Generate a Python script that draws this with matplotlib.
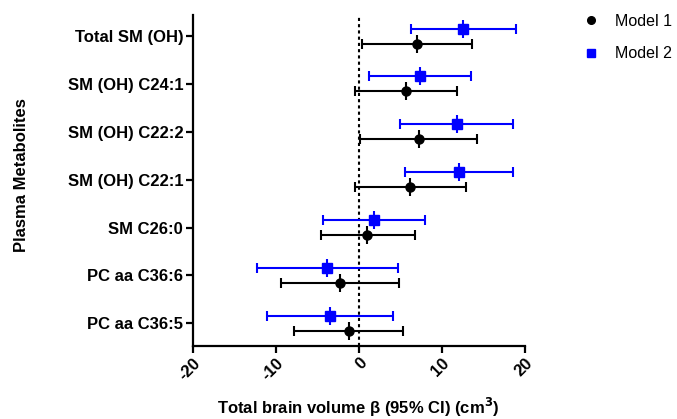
import numpy as np
import matplotlib
matplotlib.use("Agg")
import matplotlib.pyplot as plt
from matplotlib.lines import Line2D

plt.rcParams["font.family"] = ["Liberation Sans", "DejaVu Sans"]
plt.rcParams["axes.unicode_minus"] = False

metabolites = ["PC aa C36:5", "PC aa C36:6", "SM C26:0", "SM (OH) C22:1",
               "SM (OH) C22:2", "SM (OH) C24:1", "Total SM (OH)"]

m1_beta = [-1.2, -2.25, 1.0, 6.2, 7.2, 5.7, 6.95]
m1_low = [-7.8, -9.45, -4.6, -0.5, 0.15, -0.5, 0.35]
m1_high = [5.35, 4.8, 6.75, 12.9, 14.25, 11.85, 13.6]

m2_beta = [-3.45, -3.85, 1.8, 12.1, 11.8, 7.35, 12.55]
m2_low = [-11.05, -12.3, -4.35, 5.55, 4.95, 1.2, 6.3]
m2_high = [4.15, 4.65, 7.95, 18.6, 18.6, 13.5, 18.9]

y = np.arange(len(metabolites))
off = 0.157

fig = plt.figure(figsize=(6.77, 4.19), dpi=100)
ax = fig.add_axes([0.285, 0.175, 0.4905, 0.789])

def draw(beta, low, high, ypos, color, marker, ms):
    beta = np.array(beta)
    err = [beta - np.array(low), np.array(high) - beta]
    ax.errorbar(beta, ypos, xerr=err, fmt="none", ecolor=color,
                elinewidth=1.5, capsize=3.5, capthick=1.5, zorder=3)
    ax.plot(beta, ypos, linestyle="none", marker="|", color=color,
            markersize=13, markeredgewidth=1.5, zorder=4)
    ax.plot(beta, ypos, linestyle="none", marker=marker, color=color,
            markersize=ms, zorder=5)

draw(m1_beta, m1_low, m1_high, y - off, "black", "o", 6.5)
draw(m2_beta, m2_low, m2_high, y + off, "#0000ff", "s", 7)

ax.axvline(0, color="black", linestyle=(0, (1.5, 1.5)), linewidth=1.5, zorder=2)

ax.set_xlim(-20, 20)
ax.set_ylim(-0.47, 6.44)
ax.set_xticks([-20, -10, 0, 10, 20])
ax.set_yticks(y)
ax.set_yticklabels(metabolites, fontweight="bold", fontsize=12)
for lab in ax.get_xticklabels():
    lab.set_rotation(45)
    lab.set_fontweight("bold")
    lab.set_fontsize(12)
    lab.set_ha("right")
    lab.set_va("top")
    lab.set_rotation_mode("anchor")

for s in ["top", "right"]:
    ax.spines[s].set_visible(False)
for s in ["left", "bottom"]:
    ax.spines[s].set_linewidth(1.6)
ax.tick_params(width=1.6, length=5, direction="out", pad=2)

fig.text(358 / 677, 1 - 407 / 419, "Total brain volume β (95% CI) (cm$^\\mathbf{3}$)",
         fontweight="bold", fontsize=12, ha="center", va="center")
fig.text(22 / 677, 1 - 175 / 419, "Plasma Metabolites", fontweight="bold",
         fontsize=12, rotation=90, ha="center", va="center")

handles = [Line2D([], [], linestyle="none", marker="o", color="black", markersize=5.5),
           Line2D([], [], linestyle="none", marker="s", color="#0000ff", markersize=6)]
fig.legend(handles, ["Model 1", "Model 2"], loc="upper left",
           bbox_to_anchor=(0.856, 0.975), frameon=False, fontsize=11.5,
           handlelength=1.0, handletextpad=1.0, labelspacing=1.1,
           borderpad=0.2, borderaxespad=0)

fig.savefig("out.png", dpi=100)
